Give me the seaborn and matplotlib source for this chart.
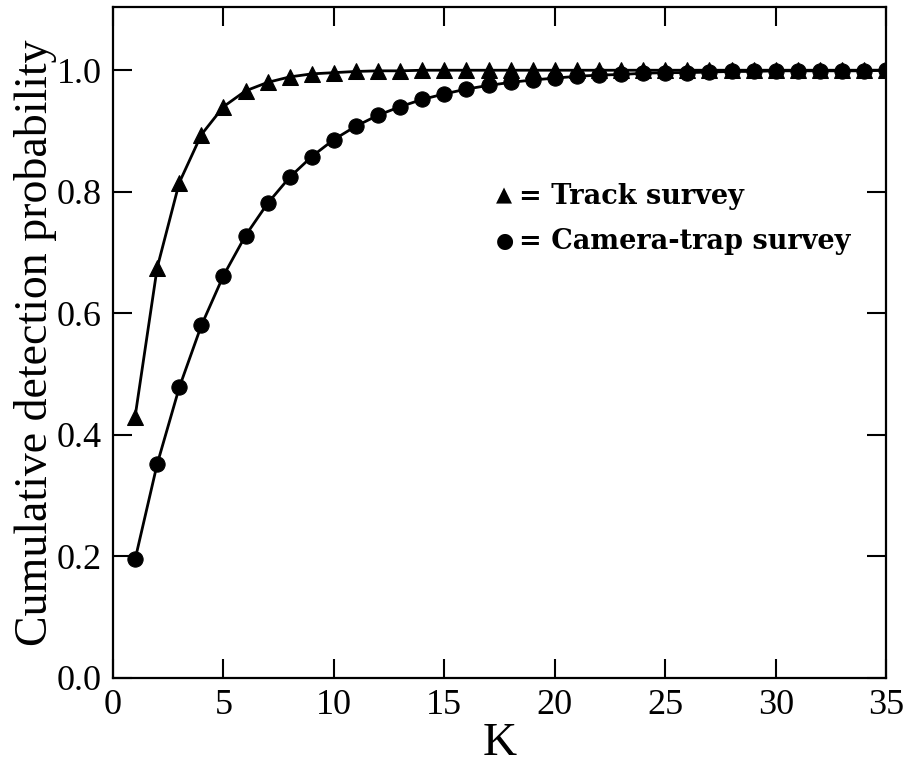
import numpy as np
import pandas as pd
import matplotlib
matplotlib.use("Agg")
import matplotlib.pyplot as plt
import seaborn as sns

# values
k_values = list(range(1, 36))
track_prob = [0.430, 0.675, 0.815, 0.894, 0.940, 0.966, 0.980, 0.989, 0.994, 0.996,
              0.998, 0.999, 0.999] + [1.0] * 22
camera_prob = [0.195, 0.352, 0.478, 0.580, 0.662, 0.728, 0.781, 0.824, 0.858, 0.886,
               0.908, 0.926, 0.940, 0.952, 0.961, 0.969, 0.975, 0.980, 0.984, 0.987,
               0.990, 0.992, 0.993, 0.995, 0.996, 0.996, 0.997, 0.998, 0.998, 0.999,
               0.999, 0.999, 0.999, 0.999, 1.0]
x_ticks = [0, 5, 10, 15, 20, 25, 30, 35]
y_ticks = [0.0, 0.2, 0.4, 0.6, 0.8, 1.0]

sns.set_style("ticks")
plt.rcParams["font.family"] = ["Liberation Serif", "DejaVu Serif"]
plt.rcParams["text.color"] = "black"
plt.rcParams["axes.labelcolor"] = "black"

df = pd.DataFrame({
    "K": k_values * 2,
    "prob": track_prob + camera_prob,
    "survey": ["Track survey"] * 35 + ["Camera-trap survey"] * 35,
})

fig = plt.figure(figsize=(9.07, 7.8), dpi=100)
ax = fig.add_axes([0.1246, 0.1308, 0.977 - 0.1246, 0.991 - 0.1308])

sns.lineplot(data=df, x="K", y="prob", hue="survey", style="survey",
             markers={"Track survey": "^", "Camera-trap survey": "o"},
             dashes=False, palette={"Track survey": "black", "Camera-trap survey": "black"},
             markersize=11, linewidth=2, markeredgecolor="black", legend=False, ax=ax)

ax.set_xlim(0, 35)
ax.set_ylim(0, 1.104)
ax.set_xticks(x_ticks)
ax.set_yticks(y_ticks)
ax.set_yticklabels([f"{v:.1f}" for v in y_ticks])
ax.tick_params(direction="in", length=14, width=1.5, labelsize=26, pad=8,
               top=True, right=True, colors="black")
for s in ax.spines.values():
    s.set_linewidth(1.6)
    s.set_color("black")
    s.set_visible(True)

ax.set_xlabel("K", fontsize=34, labelpad=0, color="black")
ax.set_ylabel("Cumulative detection probability", fontsize=33, labelpad=0, color="black")

legend_font = ["DejaVu Serif"]
ax.text(0.495, 0.718, "\u25b2", transform=ax.transAxes, family=legend_font,
        fontsize=15, va="center", ha="left", color="black")
ax.text(0.525, 0.718, "= Track survey", transform=ax.transAxes, family=legend_font,
        fontsize=19.5, fontweight="bold", va="center", ha="left", color="black")
ax.text(0.495, 0.651, "\u25cf", transform=ax.transAxes, family=legend_font,
        fontsize=15, va="center", ha="left", color="black")
ax.text(0.525, 0.651, "= Camera-trap survey", transform=ax.transAxes, family=legend_font,
        fontsize=19.5, fontweight="bold", va="center", ha="left", color="black")

fig.savefig("out.png", dpi=100)
